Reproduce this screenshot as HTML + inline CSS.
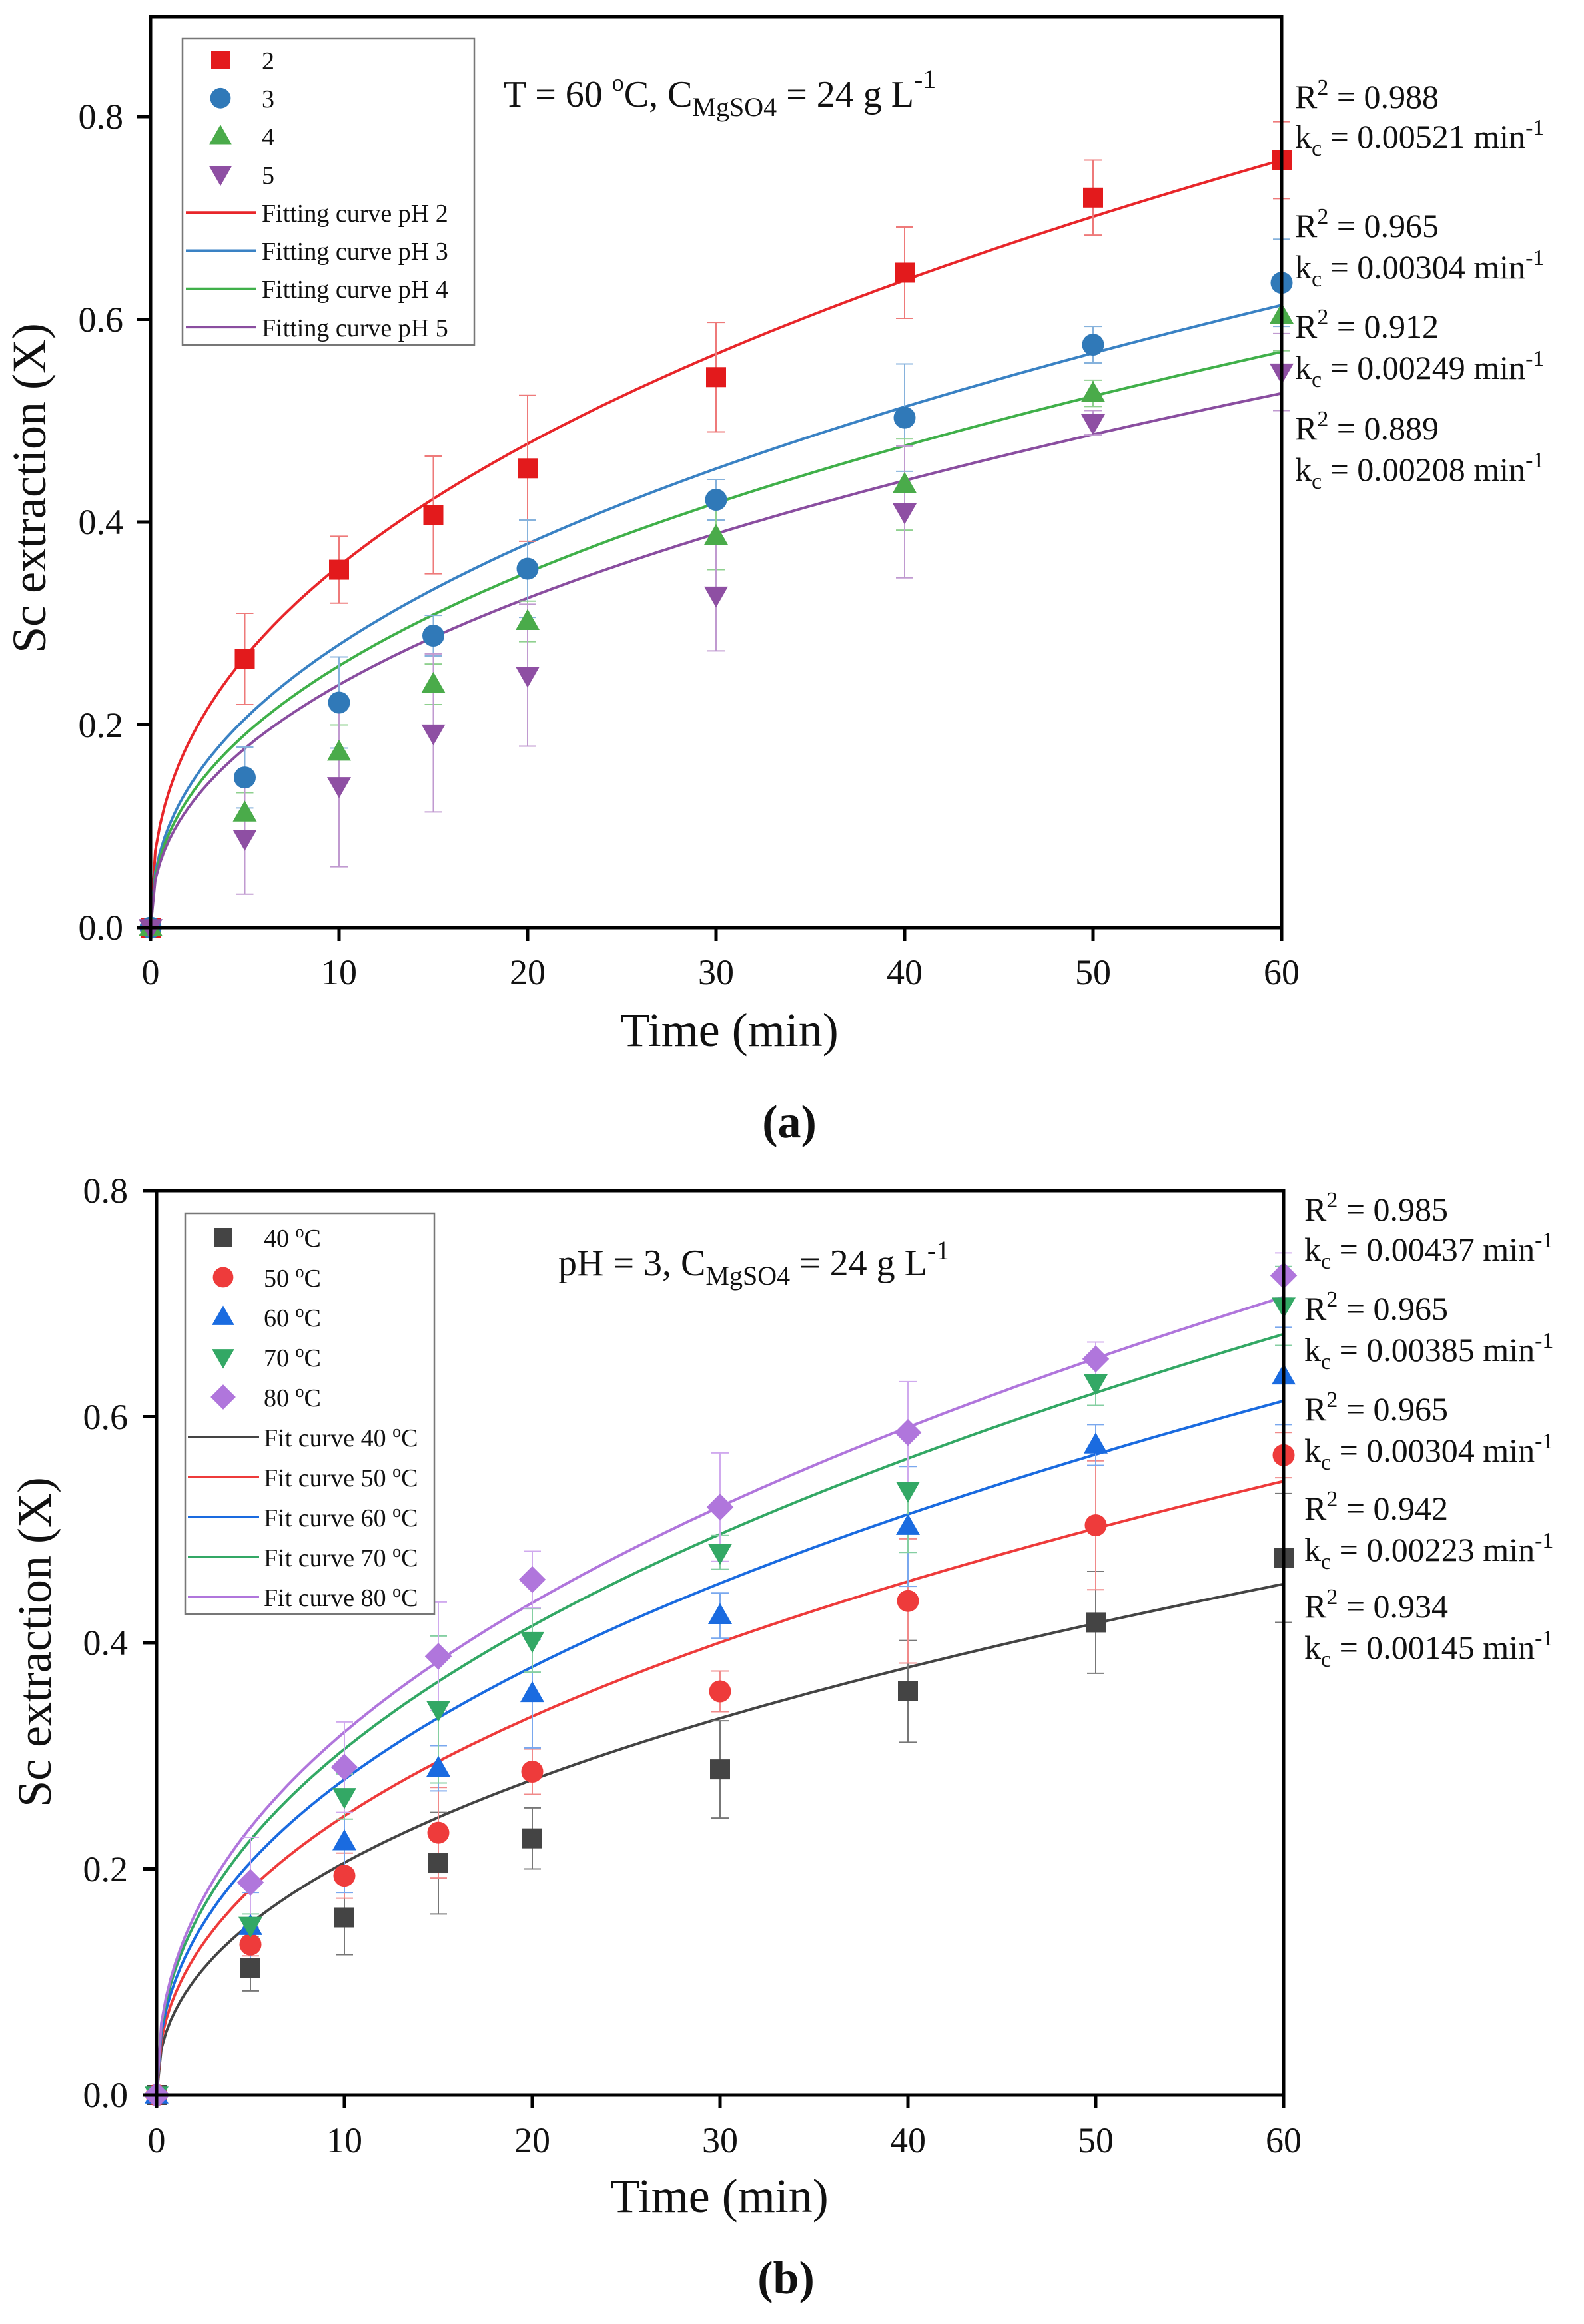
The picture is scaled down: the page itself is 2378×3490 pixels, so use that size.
<!DOCTYPE html>
<html><head><meta charset="utf-8"><style>
html,body{margin:0;padding:0;background:#fff;}
svg{display:block;}
text{font-family:"Liberation Serif",serif;fill:#111;}
</style></head><body>
<svg id="s" width="2378" height="3490" viewBox="0 0 2378 3490" xmlns="http://www.w3.org/2000/svg">
<g id="ga"></g>
<g id="gb"></g>
<g font-size="54" text-anchor="middle">
<text x="226" y="1478">0</text><text x="509" y="1478">10</text><text x="792" y="1478">20</text><text x="1075" y="1478">30</text><text x="1358" y="1478">40</text><text x="1641" y="1478">50</text><text x="1924" y="1478">60</text>
</g>
<g font-size="54" text-anchor="end">
<text x="185" y="1411">0.0</text><text x="185" y="1107">0.2</text><text x="185" y="802">0.4</text><text x="185" y="498">0.6</text><text x="185" y="193">0.8</text>
</g>
<text x="1095" y="1571" font-size="72" text-anchor="middle">Time (min)</text>
<text transform="translate(68,733) rotate(-90)" font-size="72" text-anchor="middle">Sc extraction (X)</text>
<text x="1185" y="1708" font-size="70" text-anchor="middle" font-weight="bold">(a)</text>
<text x="756" y="160" font-size="56">T = 60 <tspan dy="-24" font-size="36">o</tspan><tspan dy="24">C, C</tspan><tspan dy="14" font-size="40">MgSO4</tspan><tspan dy="-14"> = 24 g L</tspan><tspan dy="-28" font-size="40">-1</tspan></text>
<g font-size="50">
<text x="1944" y="162">R<tspan dy="-20" font-size="34">2</tspan><tspan dy="20"> = 0.988</tspan></text>
<text x="1944" y="222">k<tspan dy="12" font-size="34">c</tspan><tspan dy="-12"> = 0.00521 min</tspan><tspan dy="-20" font-size="34">-1</tspan></text>
<text x="1944" y="356">R<tspan dy="-20" font-size="34">2</tspan><tspan dy="20"> = 0.965</tspan></text>
<text x="1944" y="418">k<tspan dy="12" font-size="34">c</tspan><tspan dy="-12"> = 0.00304 min</tspan><tspan dy="-20" font-size="34">-1</tspan></text>
<text x="1944" y="507">R<tspan dy="-20" font-size="34">2</tspan><tspan dy="20"> = 0.912</tspan></text>
<text x="1944" y="569">k<tspan dy="12" font-size="34">c</tspan><tspan dy="-12"> = 0.00249 min</tspan><tspan dy="-20" font-size="34">-1</tspan></text>
<text x="1944" y="660">R<tspan dy="-20" font-size="34">2</tspan><tspan dy="20"> = 0.889</tspan></text>
<text x="1944" y="722">k<tspan dy="12" font-size="34">c</tspan><tspan dy="-12"> = 0.00208 min</tspan><tspan dy="-20" font-size="34">-1</tspan></text>
</g>
<g font-size="38">
<text x="393" y="104">2</text><text x="393" y="161">3</text><text x="393" y="218">4</text><text x="393" y="276">5</text>
<text x="393" y="333">Fitting curve pH 2</text><text x="393" y="390">Fitting curve pH 3</text><text x="393" y="447">Fitting curve pH 4</text><text x="393" y="505">Fitting curve pH 5</text>
</g>
<g font-size="54" text-anchor="middle">
<text x="235" y="3232">0</text><text x="517" y="3232">10</text><text x="799" y="3232">20</text><text x="1081" y="3232">30</text><text x="1363" y="3232">40</text><text x="1645" y="3232">50</text><text x="1927" y="3232">60</text>
</g>
<g font-size="54" text-anchor="end">
<text x="192" y="3164">0.0</text><text x="192" y="2825">0.2</text><text x="192" y="2485">0.4</text><text x="192" y="2146">0.6</text><text x="192" y="1806">0.8</text>
</g>
<text x="1080" y="3322" font-size="72" text-anchor="middle">Time (min)</text>
<text transform="translate(76,2466) rotate(-90)" font-size="72" text-anchor="middle">Sc extraction (X)</text>
<text x="1180" y="3444" font-size="70" text-anchor="middle" font-weight="bold">(b)</text>
<text x="838" y="1915" font-size="56">pH = 3, C<tspan dy="14" font-size="40">MgSO4</tspan><tspan dy="-14"> = 24 g L</tspan><tspan dy="-24" font-size="40">-1</tspan></text>
<g font-size="50">
<text x="1958" y="1833">R<tspan dy="-20" font-size="34">2</tspan><tspan dy="20"> = 0.985</tspan></text>
<text x="1958" y="1893">k<tspan dy="12" font-size="34">c</tspan><tspan dy="-12"> = 0.00437 min</tspan><tspan dy="-20" font-size="34">-1</tspan></text>
<text x="1958" y="1982">R<tspan dy="-20" font-size="34">2</tspan><tspan dy="20"> = 0.965</tspan></text>
<text x="1958" y="2044">k<tspan dy="12" font-size="34">c</tspan><tspan dy="-12"> = 0.00385 min</tspan><tspan dy="-20" font-size="34">-1</tspan></text>
<text x="1958" y="2133">R<tspan dy="-20" font-size="34">2</tspan><tspan dy="20"> = 0.965</tspan></text>
<text x="1958" y="2195">k<tspan dy="12" font-size="34">c</tspan><tspan dy="-12"> = 0.00304 min</tspan><tspan dy="-20" font-size="34">-1</tspan></text>
<text x="1958" y="2282">R<tspan dy="-20" font-size="34">2</tspan><tspan dy="20"> = 0.942</tspan></text>
<text x="1958" y="2344">k<tspan dy="12" font-size="34">c</tspan><tspan dy="-12"> = 0.00223 min</tspan><tspan dy="-20" font-size="34">-1</tspan></text>
<text x="1958" y="2429">R<tspan dy="-20" font-size="34">2</tspan><tspan dy="20"> = 0.934</tspan></text>
<text x="1958" y="2491">k<tspan dy="12" font-size="34">c</tspan><tspan dy="-12"> = 0.00145 min</tspan><tspan dy="-20" font-size="34">-1</tspan></text>
</g>
<g font-size="38">
<text x="396" y="1872">40 <tspan dy="-14" font-size="26">o</tspan><tspan dy="14">C</tspan></text>
<text x="396" y="1932">50 <tspan dy="-14" font-size="26">o</tspan><tspan dy="14">C</tspan></text>
<text x="396" y="1992">60 <tspan dy="-14" font-size="26">o</tspan><tspan dy="14">C</tspan></text>
<text x="396" y="2052">70 <tspan dy="-14" font-size="26">o</tspan><tspan dy="14">C</tspan></text>
<text x="396" y="2112">80 <tspan dy="-14" font-size="26">o</tspan><tspan dy="14">C</tspan></text>
<text x="396" y="2172">Fit curve 40 <tspan dy="-14" font-size="26">o</tspan><tspan dy="14">C</tspan></text>
<text x="396" y="2232">Fit curve 50 <tspan dy="-14" font-size="26">o</tspan><tspan dy="14">C</tspan></text>
<text x="396" y="2292">Fit curve 60 <tspan dy="-14" font-size="26">o</tspan><tspan dy="14">C</tspan></text>
<text x="396" y="2352">Fit curve 70 <tspan dy="-14" font-size="26">o</tspan><tspan dy="14">C</tspan></text>
<text x="396" y="2412">Fit curve 80 <tspan dy="-14" font-size="26">o</tspan><tspan dy="14">C</tspan></text>
</g>
</svg>
<script>
var NS="http://www.w3.org/2000/svg";
function el(p,t,a){var e=document.createElementNS(NS,t);for(var k in a)e.setAttribute(k,a[k]);p.appendChild(e);return e;}
function marker(g,type,x,y,c,s){
 if(type=="sq")el(g,"rect",{x:x-s,y:y-s,width:2*s,height:2*s,fill:c});
 else if(type=="ci")el(g,"circle",{cx:x,cy:y,r:s*1.1,fill:c});
 else if(type=="up")el(g,"polygon",{points:(x)+","+(y-s*1.25)+" "+(x-s*1.2)+","+(y+s*0.85)+" "+(x+s*1.2)+","+(y+s*0.85),fill:c});
 else if(type=="dn")el(g,"polygon",{points:(x)+","+(y+s*1.25)+" "+(x-s*1.2)+","+(y-s*0.85)+" "+(x+s*1.2)+","+(y-s*0.85),fill:c});
 else if(type=="di")el(g,"polygon",{points:x+","+(y-s*1.35)+" "+(x+s*1.35)+","+y+" "+x+","+(y+s*1.35)+" "+(x-s*1.35)+","+y,fill:c});
}
var T=[0,5,10,15,20,30,40,50,60];
function panel(g,P){
 var X=function(t){return P.x0+P.dx*t},Y=function(v){return P.y0-P.dy*v};
 P.series.forEach(function(S){
  var n=S.n||0.44;
  var d="";for(var t=0;t<=60;t+=0.25){var v=S.end*Math.pow(t/60,n);d+=(t?"L":"M")+X(t).toFixed(1)+","+Y(v).toFixed(1);}
  el(g,"path",{d:d,fill:"none",stroke:S.lc,"stroke-width":4});
 });
 P.series.forEach(function(S){
  for(var i=0;i<T.length;i++){var x=X(T[i]),v=S.y[i],e=S.e[i];
   if(e>0){var ec=S.ec;
    el(g,"line",{x1:x,x2:x,y1:Y(v-e),y2:Y(v+e),stroke:ec,"stroke-width":2});
    el(g,"line",{x1:x-13,x2:x+13,y1:Y(v-e),y2:Y(v-e),stroke:ec,"stroke-width":2});
    el(g,"line",{x1:x-13,x2:x+13,y1:Y(v+e),y2:Y(v+e),stroke:ec,"stroke-width":2});}
  }
 });
 P.series.forEach(function(S){for(var i=0;i<T.length;i++)marker(g,S.m,X(T[i]),Y(S.y[i]),S.c,15);});
 el(g,"rect",{x:P.x0,y:P.top,width:X(60)-P.x0,height:P.y0-P.top,fill:"none",stroke:"#000","stroke-width":5});
 for(var t=0;t<=60;t+=10)el(g,"line",{x1:X(t),x2:X(t),y1:P.y0,y2:P.y0+20,stroke:"#000","stroke-width":5});
 for(var v=0;v<=0.81;v+=0.2)el(g,"line",{x1:P.x0-20,x2:P.x0,y1:Y(v),y2:Y(v),stroke:"#000","stroke-width":5});
 var L=P.leg;
 el(g,"rect",{x:L.x,y:L.y,width:L.w,height:L.h,fill:"#fff",stroke:"#777","stroke-width":2.5});
 P.series.forEach(function(S,i){marker(g,S.m,L.mx,L.r0+L.sp*i,S.c,14);
  var yy=L.r0+L.sp*(i+P.series.length);el(g,"line",{x1:L.l1,x2:L.l2,y1:yy,y2:yy,stroke:S.lc,"stroke-width":4});});
}
panel(document.getElementById("ga"),{x0:226,dx:28.3,y0:1393,dy:1522.5,top:25,
 leg:{x:274,y:58,w:438,h:460,mx:331,r0:90,sp:57.3,l1:279,l2:385},
 series:[
 {m:"sq",n:0.42,c:"#e31a1c",lc:"#e8262a",ec:"#ee7a7a",end:0.757,y:[0,.265,.353,.407,.453,.543,.646,.720,.757],e:[0,.045,.033,.058,.072,.054,.045,.037,.038]},
 {m:"ci",c:"#3079b8",lc:"#3a82c4",ec:"#86b2dc",end:0.614,y:[0,.148,.222,.288,.354,.422,.503,.575,.636],e:[0,.03,.045,.02,.048,.02,.053,.018,.043]},
 {m:"up",c:"#4aab4a",lc:"#40b04a",ec:"#8fd08f",end:0.568,y:[0,.113,.173,.240,.302,.386,.437,.527,.604],e:[0,.02,.027,.02,.02,.033,.045,.013,.035]},
 {m:"dn",c:"#8e4fa3",lc:"#8a4ea0",ec:"#c09ad0",end:0.527,y:[0,.088,.140,.192,.249,.328,.410,.498,.548],e:[0,.055,.08,.078,.07,.055,.065,.012,.038]}
 ]});
panel(document.getElementById("gb"),{x0:235,dx:28.2,y0:3146,dy:1697.5,top:1788,
 leg:{x:278,y:1822,w:374,h:602,mx:335,r0:1858,sp:60,l1:282,l2:389},
 series:[
 {m:"sq",c:"#444444",lc:"#444444",ec:"#777777",end:0.452,y:[0,.112,.157,.205,.227,.288,.357,.418,.475],e:[0,.02,.033,.045,.027,.043,.045,.045,.057]},
 {m:"ci",c:"#ee3b3b",lc:"#ee3b3b",ec:"#f08a8a",end:0.543,y:[0,.133,.194,.232,.286,.357,.437,.504,.566],e:[0,.01,.02,.04,.02,.018,.055,.057,.02]},
 {m:"up",c:"#1a6be0",lc:"#1a6be0",ec:"#7aa8ee",end:0.614,y:[0,.149,.224,.289,.355,.424,.503,.575,.636],e:[0,.03,.045,.02,.048,.02,.053,.018,.043]},
 {m:"dn",c:"#33a865",lc:"#33a865",ec:"#85cfa2",end:0.673,y:[0,.150,.264,.341,.402,.480,.535,.630,.698],e:[0,.01,.02,.065,.028,.015,.055,.02,.035]},
 {m:"di",c:"#b076dc",lc:"#b076dc",ec:"#d0aaee",end:0.706,y:[0,.188,.290,.388,.456,.520,.586,.651,.725],e:[0,.04,.04,.048,.025,.048,.045,.015,.02]}
 ]});
</script>
</body></html>
